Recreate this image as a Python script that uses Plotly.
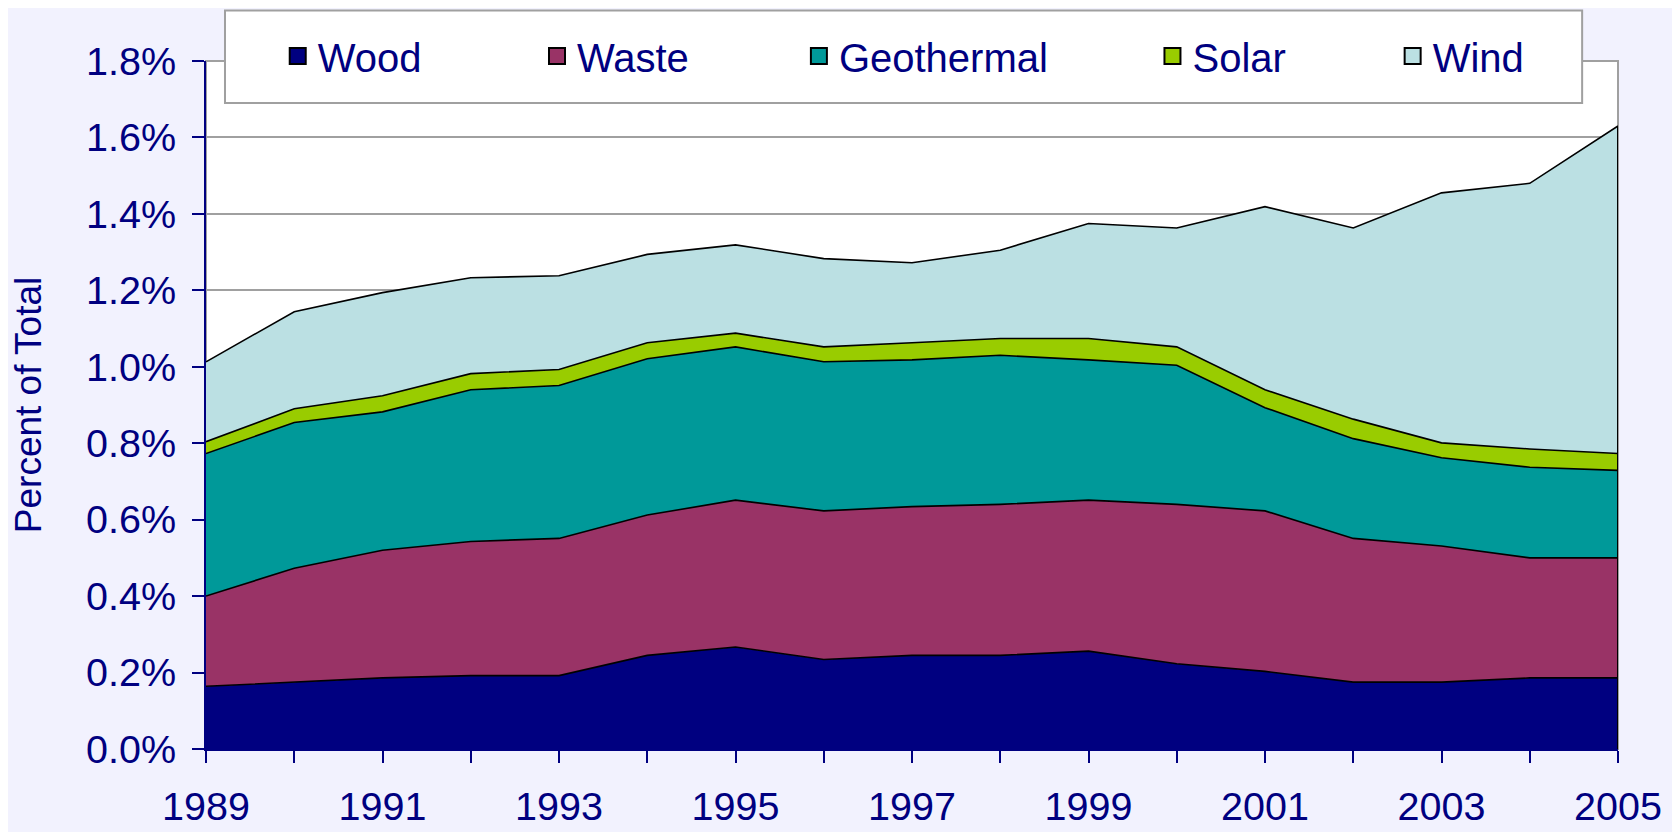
import plotly.graph_objects as go

years = list(range(1989, 2006))
year_labels = [str(y) if (y - 1989) % 2 == 0 else "" for y in years]

wood = [0.164, 0.175, 0.186, 0.192, 0.192, 0.245, 0.267, 0.234, 0.245, 0.245,
        0.256, 0.223, 0.203, 0.175, 0.175, 0.186, 0.186]
waste = [0.236, 0.298, 0.334, 0.351, 0.359, 0.367, 0.384, 0.389, 0.389, 0.395,
         0.395, 0.417, 0.420, 0.376, 0.356, 0.314, 0.314]
geothermal = [0.373, 0.381, 0.362, 0.397, 0.400, 0.409, 0.401, 0.390, 0.384, 0.390,
              0.367, 0.364, 0.270, 0.261, 0.231, 0.237, 0.229]
solar = [0.031, 0.036, 0.042, 0.042, 0.042, 0.042, 0.036, 0.039, 0.045, 0.044,
         0.056, 0.048, 0.047, 0.051, 0.039, 0.048, 0.044]
wind = [0.209, 0.254, 0.270, 0.251, 0.245, 0.231, 0.231, 0.231, 0.209, 0.231,
        0.301, 0.311, 0.479, 0.500, 0.654, 0.695, 0.857]

series_names = ["Wood", "Waste", "Geothermal", "Solar", "Wind"]
series_values = [wood, waste, geothermal, solar, wind]
colors = ["#000080", "#993366", "#009999", "#99CC00", "#BBE0E3"]

NAVY = "#000080"
FONT = "Liberation Sans, Arial, sans-serif"

fig = go.Figure()

for name, vals, col in zip(series_names, series_values, colors):
    fig.add_trace(go.Scatter(
        x=years, y=vals, name=name, stackgroup="one", mode="lines",
        line=dict(color="black", width=1.6), fillcolor=col,
        showlegend=False, hoverinfo="x+y+name",
    ))

# right edge outline of the stacked areas
total_last = sum(v[-1] for v in series_values)
fig.add_trace(go.Scatter(x=[years[-1], years[-1]], y=[0, total_last], mode="lines",
                         line=dict(color="black", width=2), showlegend=False,
                         hoverinfo="skip"))

# legend entries (square swatches), each in its own legend for exact placement
legend_x = [0.0508, 0.2344, 0.4199, 0.6703, 0.8404]
legend_ids = ["legend", "legend2", "legend3", "legend4", "legend5"]
for name, col, lid in zip(series_names, colors, legend_ids):
    fig.add_trace(go.Scatter(
        x=[None], y=[None], mode="markers", name=name, legend=lid,
        marker=dict(symbol="square", size=16, color=col,
                    line=dict(color="black", width=2)),
        showlegend=True,
    ))

legend_common = dict(
    orientation="h", yanchor="middle", y=1.0072, xanchor="left",
    bgcolor="rgba(0,0,0,0)", borderwidth=0,
    font=dict(family=FONT, size=40, color=NAVY),
)
layout_legends = {}
for lid, lx in zip(legend_ids, legend_x):
    layout_legends[lid] = dict(legend_common, x=lx)

fig.update_layout(
    width=1680, height=832,
    margin=dict(l=190.3, r=69.5, t=53.2, b=61.8),
    paper_bgcolor="#F2F2FE",
    plot_bgcolor="white",
    font=dict(family=FONT, color=NAVY, size=39),
    showlegend=True,
    shapes=[
        dict(type="rect", xref="paper", yref="paper", x0=0, x1=1, y0=0, y1=1,
             line=dict(color="#A0A0A0", width=2), fillcolor="rgba(0,0,0,0)",
             layer="below"),
        dict(type="rect", xref="paper", yref="paper",
             x0=0.01345, x1=0.9746, y0=0.9391, y1=1.0735,
             line=dict(color="#A0A0A0", width=2), fillcolor="white",
             layer="above"),
    ],
    **layout_legends,
)

fig.update_xaxes(
    range=[1989, 2005], tickmode="array", tickvals=years, ticktext=year_labels,
    ticks="outside", ticklen=12, tickwidth=2, tickcolor=NAVY,
    showline=True, linecolor=NAVY, linewidth=2, showgrid=False, zeroline=False,
    tickfont=dict(family=FONT, size=39.5, color=NAVY), ticklabelstandoff=10,
)
fig.update_yaxes(
    range=[0, 1.8], tickmode="linear", tick0=0, dtick=0.2,
    tickformat=".1f", ticksuffix="%",
    ticks="outside", ticklen=12, tickwidth=2, tickcolor=NAVY,
    showline=True, linecolor=NAVY, linewidth=2,
    showgrid=True, gridcolor="#A0A0A0", gridwidth=1.5, zeroline=False,
    tickfont=dict(family=FONT, size=39.5, color=NAVY), ticklabelstandoff=8,
    title=dict(text="Percent of Total", font=dict(family=FONT, size=37, color=NAVY),
               standoff=40),
)

fig.write_html("out.html")
